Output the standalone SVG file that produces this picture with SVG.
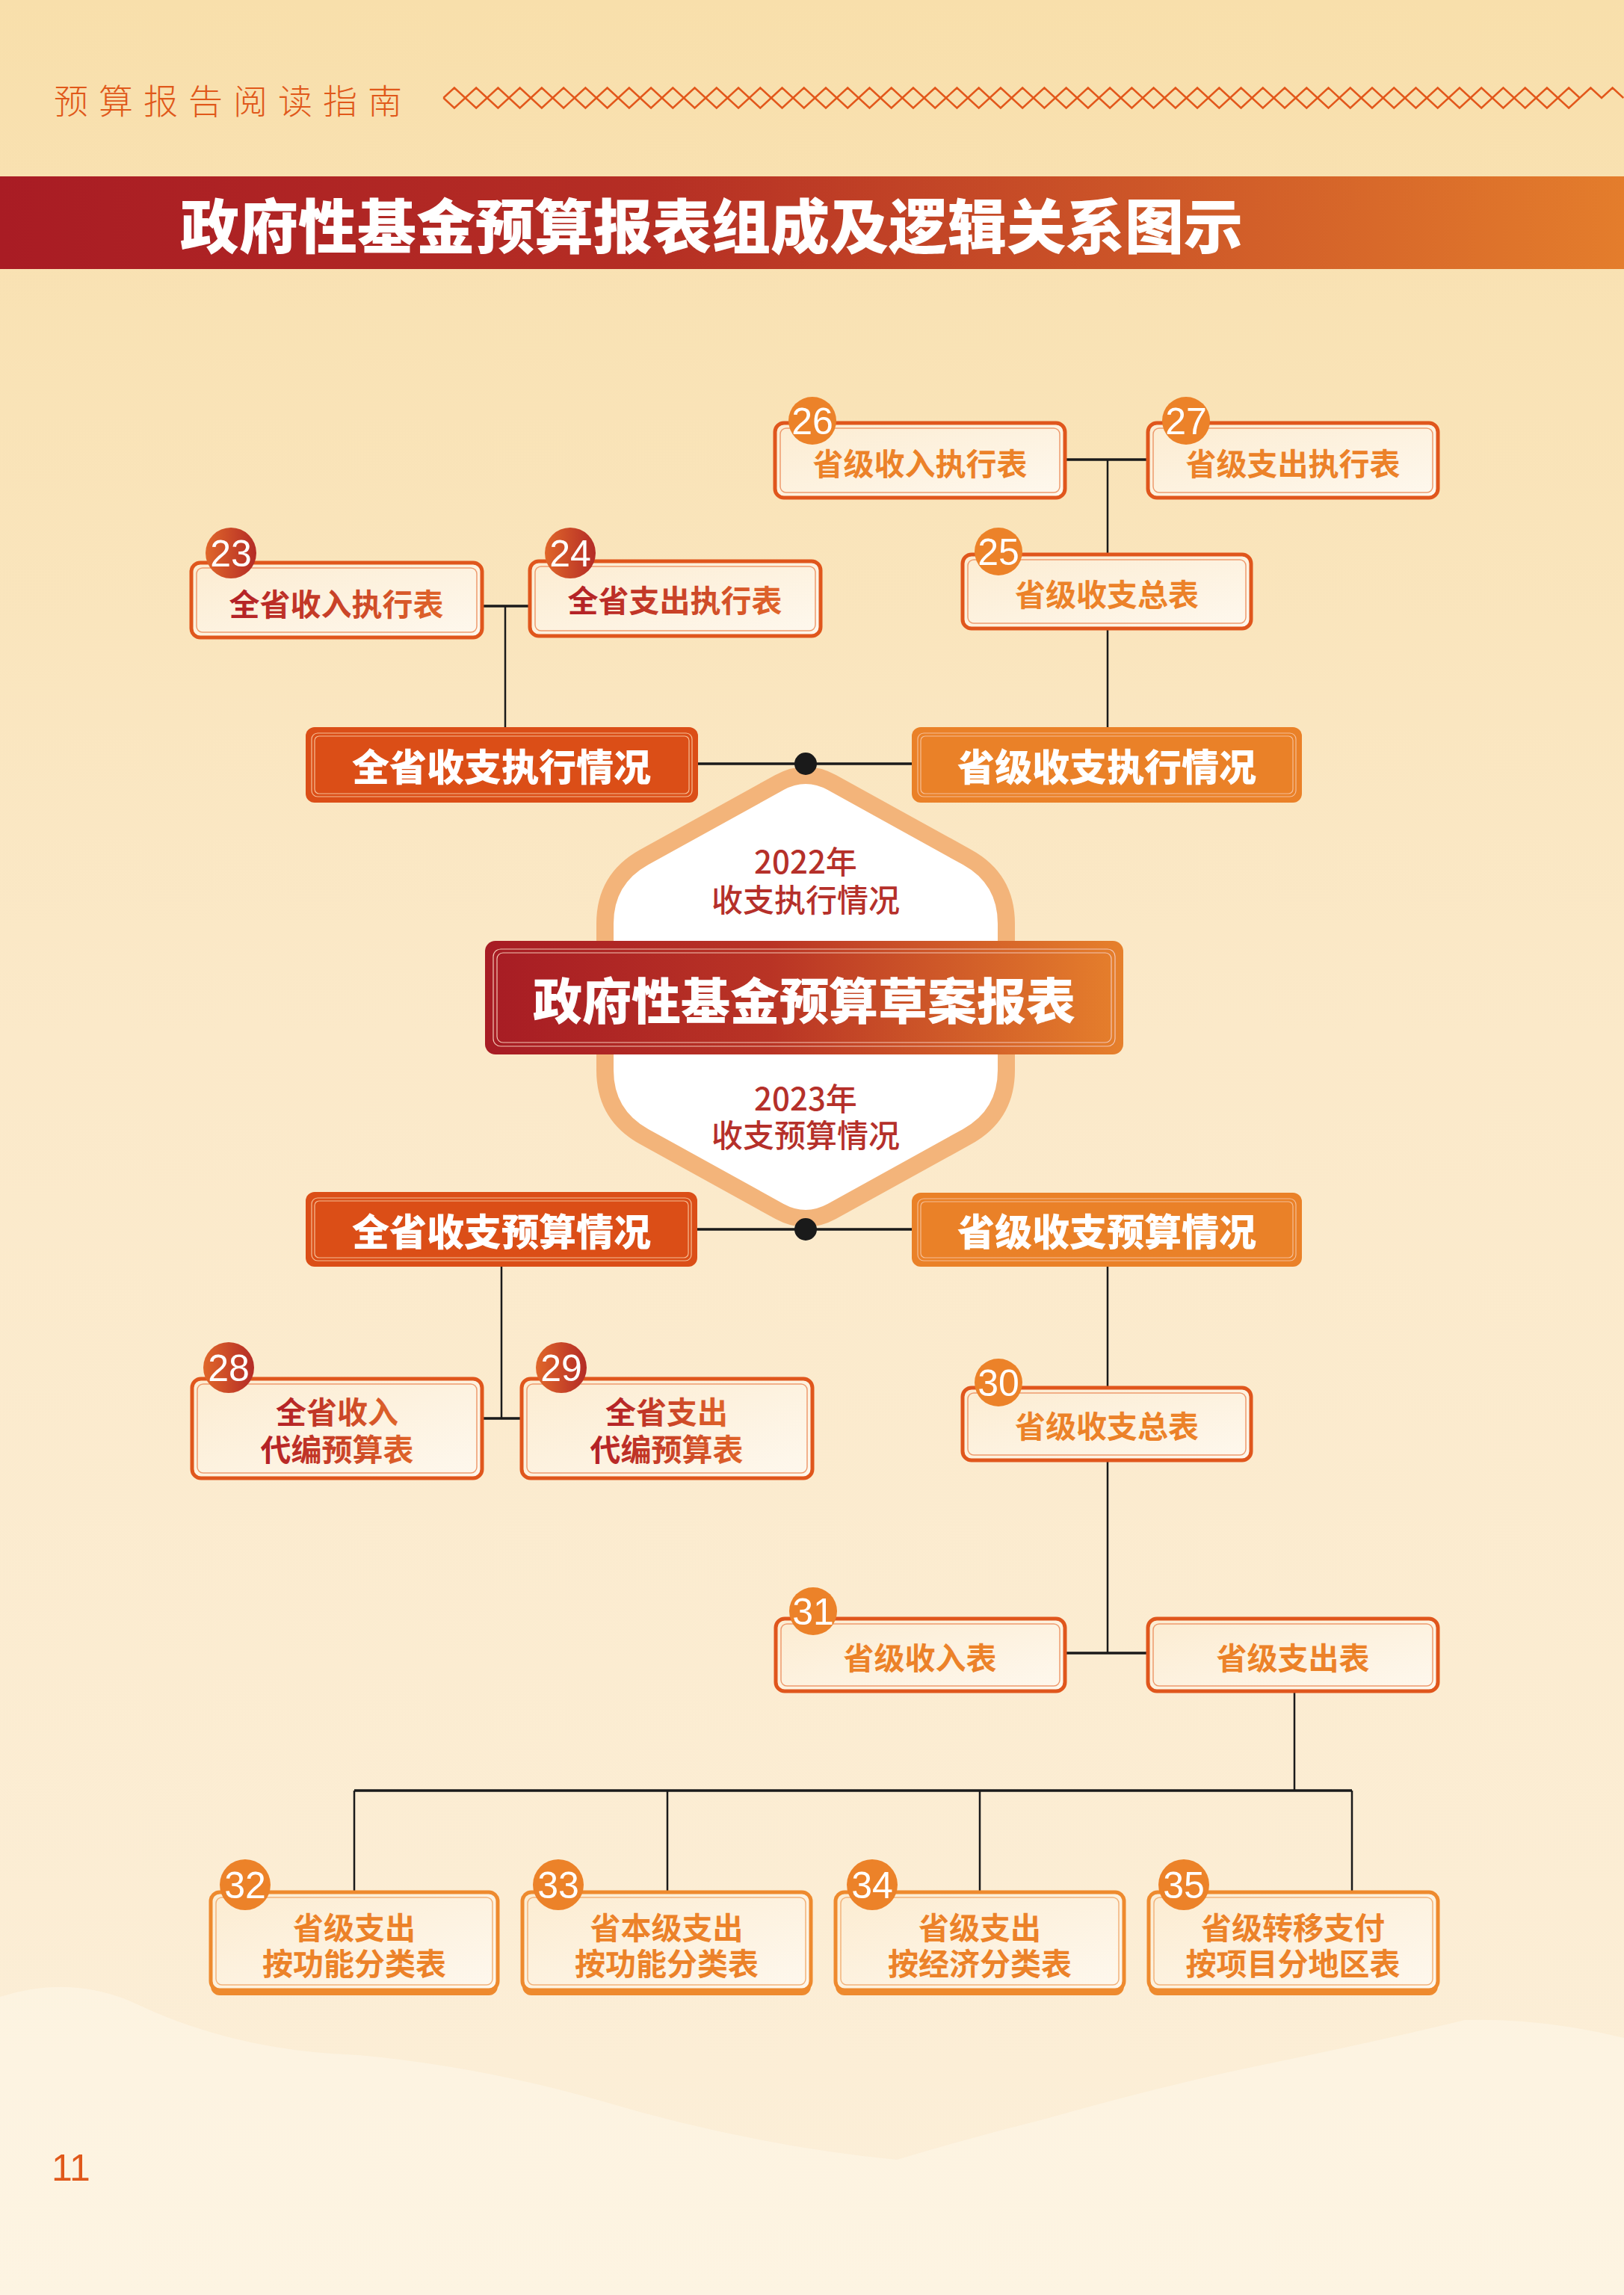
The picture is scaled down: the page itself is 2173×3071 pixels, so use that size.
<svg xmlns="http://www.w3.org/2000/svg" width="2173" height="3071" viewBox="0 0 2173 3071">
<defs>
<linearGradient id="bg" x1="0" y1="0" x2="0" y2="1">
<stop offset="0" stop-color="#F8DFAB"/>
<stop offset="0.45" stop-color="#FBE9C9"/>
<stop offset="1" stop-color="#FCEFD9"/>
</linearGradient>
<linearGradient id="band" x1="0" y1="0" x2="1" y2="0">
<stop offset="0" stop-color="#A91C24"/>
<stop offset="0.4" stop-color="#B52E24"/>
<stop offset="1" stop-color="#E47D2C"/>
</linearGradient>
<linearGradient id="central" x1="0" y1="0" x2="1" y2="0">
<stop offset="0" stop-color="#A71C24"/>
<stop offset="0.45" stop-color="#B93425"/>
<stop offset="1" stop-color="#E6802C"/>
</linearGradient>
<linearGradient id="cream" x1="0" y1="0" x2="1" y2="1">
<stop offset="0" stop-color="#FCECD1"/>
<stop offset="1" stop-color="#FEF8EE"/>
</linearGradient>
<linearGradient id="tgrad" x1="0" y1="0" x2="1" y2="0">
<stop offset="0" stop-color="#B21F26"/>
<stop offset="1" stop-color="#E0652A"/>
</linearGradient>
<linearGradient id="cgrad" x1="0" y1="0" x2="1" y2="0">
<stop offset="0" stop-color="#E0672A"/>
<stop offset="1" stop-color="#B42B26"/>
</linearGradient>
<style>
.box{fill:url(#cream);stroke:#E0561C;stroke-width:5}
.boxb{fill:url(#cream);stroke:#EE8A2E;stroke-width:5}
.ledge{fill:#EE8A2E}
.boxin{fill:none;stroke:#EE9B6E;stroke-width:1.5}
.boxinb{fill:none;stroke:#F2B27A;stroke-width:1.5}
.h1{fill:#DB4E17}
.h2{fill:#EA8128}
.hin{fill:none;stroke:#F6BE96;stroke-width:1.2}
.cin{fill:none;stroke:#F3C6B4;stroke-width:1.2}
.t{font-family:"Noto Sans CJK SC","Noto Sans",sans-serif;font-size:41px;font-weight:700;text-anchor:middle;dominant-baseline:central}
.tr{fill:url(#tgrad)}
.to{fill:#EC8229}
.ht{font-family:"Noto Sans CJK SC","Noto Sans",sans-serif;font-size:50px;font-weight:900;fill:#FFFFFF;text-anchor:middle;dominant-baseline:central}
.hx{font-family:"Noto Sans CJK SC","Noto Sans",sans-serif;font-size:42px;font-weight:500;fill:#B5302A;text-anchor:middle;dominant-baseline:central}
.num{font-family:"Liberation Sans",Arial,sans-serif;font-size:50px;fill:#FFFFFF;text-anchor:middle;dominant-baseline:central}
.c1{fill:url(#cgrad)}
.c2{fill:#EC8229}
.ln{stroke:#1A1A1A;stroke-width:2.5;fill:none}
.lh{stroke:#1A1A1A;stroke-width:3.5;fill:none}
</style>
</defs>

<rect x="0" y="0" width="2173" height="3071" fill="url(#bg)"/>
<path d="M0,2672 Q100,2640 190,2685 Q320,2745 480,2750 Q640,2765 800,2810 Q1000,2870 1200,2890 Q1300,2860 1400,2835 Q1560,2790 1680,2765 Q1850,2730 1960,2703 Q2060,2700 2173,2727 L2173,3071 L0,3071 Z" fill="#FEF6E8" opacity="0.6"/>

<g id="page-header">
<text x="72" y="132" font-family="'Noto Sans CJK SC','Noto Sans',sans-serif" font-size="46" font-weight="300" fill="#E0581A" letter-spacing="14" dominant-baseline="central">预算报告阅读指南</text>
<path fill="none" stroke="#E2571B" stroke-width="2.4" d="M593.3,131 l14.62,-13.5 14.62,13.5 14.62,-13.5 14.62,13.5 14.62,-13.5 14.62,13.5 14.62,-13.5 14.62,13.5 14.62,-13.5 14.62,13.5 14.62,-13.5 14.62,13.5 14.62,-13.5 14.62,13.5 14.62,-13.5 14.62,13.5 14.62,-13.5 14.62,13.5 14.62,-13.5 14.62,13.5 14.62,-13.5 14.62,13.5 14.62,-13.5 14.62,13.5 14.62,-13.5 14.62,13.5 14.62,-13.5 14.62,13.5 14.62,-13.5 14.62,13.5 14.62,-13.5 14.62,13.5 14.62,-13.5 14.62,13.5 14.62,-13.5 14.62,13.5 14.62,-13.5 14.62,13.5 14.62,-13.5 14.62,13.5 14.62,-13.5 14.62,13.5 14.62,-13.5 14.62,13.5 14.62,-13.5 14.62,13.5 14.62,-13.5 14.62,13.5 14.62,-13.5 14.62,13.5 14.62,-13.5 14.62,13.5 14.62,-13.5 14.62,13.5 14.62,-13.5 14.62,13.5 14.62,-13.5 14.62,13.5 14.62,-13.5 14.62,13.5 14.62,-13.5 14.62,13.5 14.62,-13.5 14.62,13.5 14.62,-13.5 14.62,13.5 14.62,-13.5 14.62,13.5 14.62,-13.5 14.62,13.5 14.62,-13.5 14.62,13.5 14.62,-13.5 14.62,13.5 14.62,-13.5 14.62,13.5 14.62,-13.5 14.62,13.5 14.62,-13.5 14.62,13.5 14.62,-13.5 14.62,13.5 14.62,-13.5 14.62,13.5 14.62,-13.5 14.62,13.5 14.62,-13.5 14.62,13.5 14.62,-13.5 14.62,13.5 14.62,-13.5 14.62,13.5 14.62,-13.5 14.62,13.5 14.62,-13.5 14.62,13.5 14.62,-13.5 14.62,13.5 14.62,-13.5 14.62,13.5 14.62,-13.5 14.62,13.5 14.62,-13.5 14.62,13.5 14.62,-13.5 14.62,13.5 14.62,-13.5 14.62,13.5 M593.3,131 l14.62,13.5 14.62,-13.5 14.62,13.5 14.62,-13.5 14.62,13.5 14.62,-13.5 14.62,13.5 14.62,-13.5 14.62,13.5 14.62,-13.5 14.62,13.5 14.62,-13.5 14.62,13.5 14.62,-13.5 14.62,13.5 14.62,-13.5 14.62,13.5 14.62,-13.5 14.62,13.5 14.62,-13.5 14.62,13.5 14.62,-13.5 14.62,13.5 14.62,-13.5 14.62,13.5 14.62,-13.5 14.62,13.5 14.62,-13.5 14.62,13.5 14.62,-13.5 14.62,13.5 14.62,-13.5 14.62,13.5 14.62,-13.5 14.62,13.5 14.62,-13.5 14.62,13.5 14.62,-13.5 14.62,13.5 14.62,-13.5 14.62,13.5 14.62,-13.5 14.62,13.5 14.62,-13.5 14.62,13.5 14.62,-13.5 14.62,13.5 14.62,-13.5 14.62,13.5 14.62,-13.5 14.62,13.5 14.62,-13.5 14.62,13.5 14.62,-13.5 14.62,13.5 14.62,-13.5 14.62,13.5 14.62,-13.5 14.62,13.5 14.62,-13.5 14.62,13.5 14.62,-13.5 14.62,13.5 14.62,-13.5 14.62,13.5 14.62,-13.5 14.62,13.5 14.62,-13.5 14.62,13.5 14.62,-13.5 14.62,13.5 14.62,-13.5 14.62,13.5 14.62,-13.5 14.62,13.5 14.62,-13.5 14.62,13.5 14.62,-13.5 14.62,13.5 14.62,-13.5 14.62,13.5 14.62,-13.5 14.62,13.5 14.62,-13.5 14.62,13.5 14.62,-13.5 14.62,13.5 14.62,-13.5 14.62,13.5 14.62,-13.5 14.62,13.5 14.62,-13.5 14.62,13.5 14.62,-13.5 14.62,13.5 14.62,-13.5 14.62,13.5 14.62,-13.5 14.62,13.5 14.62,-13.5 14.62,13.5 14.62,-13.5 14.62,13.5 14.62,-13.5"/>
</g>

<g id="title-band">
<rect x="0" y="236" width="2173" height="124" fill="url(#band)"/>
<text x="241" y="298" font-family="'Noto Sans CJK SC','Noto Sans',sans-serif" font-size="79" font-weight="900" fill="#FFFFFF" dominant-baseline="central">政府性基金预算报表组成及逻辑关系图示</text>
</g>

<g id="hexagon">
<path d="M1043,1047 Q1078,1028 1113,1047 L1294,1147 Q1346.5,1176 1346.5,1236 L1346.5,1432 Q1346.5,1492 1294,1521 L1113,1621 Q1078,1640 1043,1621 L862,1521 Q809.5,1492 809.5,1432 L809.5,1236 Q809.5,1176 862,1147 Z" fill="#FFFFFF" stroke="#F3B47A" stroke-width="23" stroke-linejoin="round"/>
<text class="hx" x="1078" y="1150">2022年</text>
<text class="hx" x="1078" y="1201">收支执行情况</text>
<text class="hx" x="1078" y="1467">2023年</text>
<text class="hx" x="1078" y="1516">收支预算情况</text>
</g>

<g id="connectors">
<path class="lh" d="M645,811 H709"/>
<path class="ln" d="M676,811 V973"/>
<path class="lh" d="M1425,615 H1536"/>
<path class="ln" d="M1482,615 V742 M1482,841 V973"/>
<path class="lh" d="M934,1022 H1220"/>
<path class="lh" d="M933,1645 H1220"/>
<path class="ln" d="M671,1695 V1898"/>
<path class="lh" d="M645,1898 H698"/>
<path class="ln" d="M1482,1695 V1857 M1482,1954 V2212"/>
<path class="lh" d="M1425,2212 H1536"/>
<path class="ln" d="M1732,2263 V2396"/>
<path class="lh" d="M474,2396 H1809"/>
<path class="ln" d="M474,2396 V2532 M893,2396 V2532 M1311,2396 V2532 M1809,2396 V2532"/>
<circle cx="1078" cy="1022" r="15" fill="#1A1A1A"/>
<circle cx="1078" cy="1645" r="15" fill="#1A1A1A"/>
</g>

<g id="n23">
<rect class="box" x="256" y="753" width="389" height="100" rx="12"/>
<rect class="boxin" x="263" y="760" width="375" height="86" rx="8"/>
<circle class="c1" cx="309" cy="740" r="34"/>
<text class="num" x="309" y="741">23</text>
<text class="t tr" x="450" y="806">全省收入执行表</text>
</g>
<g id="n24">
<rect class="box" x="709" y="751" width="389" height="100" rx="12"/>
<rect class="boxin" x="716" y="758" width="375" height="86" rx="8"/>
<circle class="c1" cx="763" cy="740" r="34"/>
<text class="num" x="763" y="741">24</text>
<text class="t tr" x="903" y="801">全省支出执行表</text>
</g>
<g id="n26">
<rect class="box" x="1037" y="566" width="388" height="100" rx="12"/>
<rect class="boxin" x="1044" y="573" width="374" height="86" rx="8"/>
<circle class="c2" cx="1087" cy="563" r="32"/>
<text class="num" x="1087" y="564">26</text>
<text class="t to" x="1231" y="618">省级收入执行表</text>
</g>
<g id="n27">
<rect class="box" x="1536" y="566" width="388" height="100" rx="12"/>
<rect class="boxin" x="1543" y="573" width="374" height="86" rx="8"/>
<circle class="c2" cx="1587" cy="563" r="32"/>
<text class="num" x="1587" y="564">27</text>
<text class="t to" x="1730" y="618">省级支出执行表</text>
</g>
<g id="n25">
<rect class="box" x="1288" y="742" width="386" height="99" rx="12"/>
<rect class="boxin" x="1295" y="749" width="372" height="85" rx="8"/>
<circle class="c2" cx="1336" cy="738" r="32"/>
<text class="num" x="1336" y="739">25</text>
<text class="t to" x="1481" y="793">省级收支总表</text>
</g>

<g id="exec-all">
<rect class="h1" x="409" y="973" width="525" height="101" rx="12"/>
<rect class="hin" x="417" y="981" width="509" height="85" rx="8"/>
<rect class="hin" x="421" y="985" width="501" height="77" rx="6"/>
<text class="ht" x="671" y="1023">全省收支执行情况</text>
</g>
<g id="exec-prov">
<rect class="h2" x="1220" y="973" width="522" height="101" rx="12"/>
<rect class="hin" x="1228" y="981" width="506" height="85" rx="8"/>
<rect class="hin" x="1232" y="985" width="498" height="77" rx="6"/>
<text class="ht" x="1481" y="1023">省级收支执行情况</text>
</g>

<g id="central">
<rect x="649" y="1259" width="854" height="152" rx="14" fill="url(#central)"/>
<rect class="cin" x="660" y="1270" width="832" height="130" rx="10"/>
<rect class="cin" x="665" y="1275" width="822" height="120" rx="8"/>
<text x="1076" y="1335" font-family="'Noto Sans CJK SC','Noto Sans',sans-serif" font-size="66" font-weight="900" fill="#FFFFFF" text-anchor="middle" dominant-baseline="central">政府性基金预算草案报表</text>
</g>

<g id="budget-all">
<rect class="h1" x="409" y="1595" width="524" height="100" rx="12"/>
<rect class="hin" x="417" y="1603" width="508" height="84" rx="8"/>
<rect class="hin" x="421" y="1607" width="500" height="76" rx="6"/>
<text class="ht" x="671" y="1645">全省收支预算情况</text>
</g>
<g id="budget-prov">
<rect class="h2" x="1220" y="1596" width="522" height="99" rx="12"/>
<rect class="hin" x="1228" y="1604" width="506" height="83" rx="8"/>
<rect class="hin" x="1232" y="1608" width="498" height="75" rx="6"/>
<text class="ht" x="1481" y="1645">省级收支预算情况</text>
</g>

<g id="n28">
<rect class="box" x="257" y="1845" width="388" height="133" rx="12"/>
<rect class="boxin" x="264" y="1852" width="374" height="119" rx="8"/>
<circle class="c1" cx="306" cy="1830" r="34"/>
<text class="num" x="306" y="1831">28</text>
<text class="t tr" x="451" y="1887">全省收入</text>
<text class="t tr" x="451" y="1937">代编预算表</text>
</g>
<g id="n29">
<rect class="box" x="698" y="1845" width="389" height="133" rx="12"/>
<rect class="boxin" x="705" y="1852" width="375" height="119" rx="8"/>
<circle class="c1" cx="751" cy="1830" r="34"/>
<text class="num" x="751" y="1831">29</text>
<text class="t tr" x="892" y="1887">全省支出</text>
<text class="t tr" x="892" y="1937">代编预算表</text>
</g>
<g id="n30">
<rect class="box" x="1288" y="1857" width="386" height="97" rx="12"/>
<rect class="boxin" x="1295" y="1864" width="372" height="83" rx="8"/>
<circle class="c2" cx="1336" cy="1850" r="32"/>
<text class="num" x="1336" y="1851">30</text>
<text class="t to" x="1481" y="1906">省级收支总表</text>
</g>
<g id="n31">
<rect class="box" x="1038" y="2166" width="387" height="97" rx="12"/>
<rect class="boxin" x="1045" y="2173" width="373" height="83" rx="8"/>
<circle class="c2" cx="1088" cy="2156" r="32"/>
<text class="num" x="1088" y="2157">31</text>
<text class="t to" x="1231" y="2216">省级收入表</text>
</g>
<g id="n-prov-exp">
<rect class="box" x="1536" y="2166" width="388" height="97" rx="12"/>
<rect class="boxin" x="1543" y="2173" width="374" height="83" rx="8"/>
<text class="t to" x="1730" y="2216">省级支出表</text>
</g>

<g id="n32">
<rect class="ledge" x="282" y="2540" width="384" height="130" rx="12"/>
<rect class="boxb" x="282" y="2532" width="384" height="131" rx="12"/>
<rect class="boxinb" x="289" y="2539" width="370" height="117" rx="8"/>
<circle class="c2" cx="328" cy="2522" r="34"/>
<text class="num" x="328" y="2523">32</text>
<text class="t to" x="474" y="2577">省级支出</text>
<text class="t to" x="474" y="2625">按功能分类表</text>
</g>
<g id="n33">
<rect class="ledge" x="699" y="2540" width="386" height="130" rx="12"/>
<rect class="boxb" x="699" y="2532" width="386" height="131" rx="12"/>
<rect class="boxinb" x="706" y="2539" width="372" height="117" rx="8"/>
<circle class="c2" cx="747" cy="2522" r="34"/>
<text class="num" x="747" y="2523">33</text>
<text class="t to" x="892" y="2577">省本级支出</text>
<text class="t to" x="892" y="2625">按功能分类表</text>
</g>
<g id="n34">
<rect class="ledge" x="1118" y="2540" width="386" height="130" rx="12"/>
<rect class="boxb" x="1118" y="2532" width="386" height="131" rx="12"/>
<rect class="boxinb" x="1125" y="2539" width="372" height="117" rx="8"/>
<circle class="c2" cx="1167" cy="2522" r="34"/>
<text class="num" x="1167" y="2523">34</text>
<text class="t to" x="1311" y="2577">省级支出</text>
<text class="t to" x="1311" y="2625">按经济分类表</text>
</g>
<g id="n35">
<rect class="ledge" x="1537" y="2540" width="387" height="130" rx="12"/>
<rect class="boxb" x="1537" y="2532" width="387" height="131" rx="12"/>
<rect class="boxinb" x="1544" y="2539" width="373" height="117" rx="8"/>
<circle class="c2" cx="1584" cy="2522" r="34"/>
<text class="num" x="1584" y="2523">35</text>
<text class="t to" x="1730" y="2577">省级转移支付</text>
<text class="t to" x="1730" y="2625">按项目分地区表</text>
</g>

<text x="69" y="2918" font-family="'Liberation Sans',Arial,sans-serif" font-size="50" font-weight="300" fill="#E0581A">11</text>
</svg>
